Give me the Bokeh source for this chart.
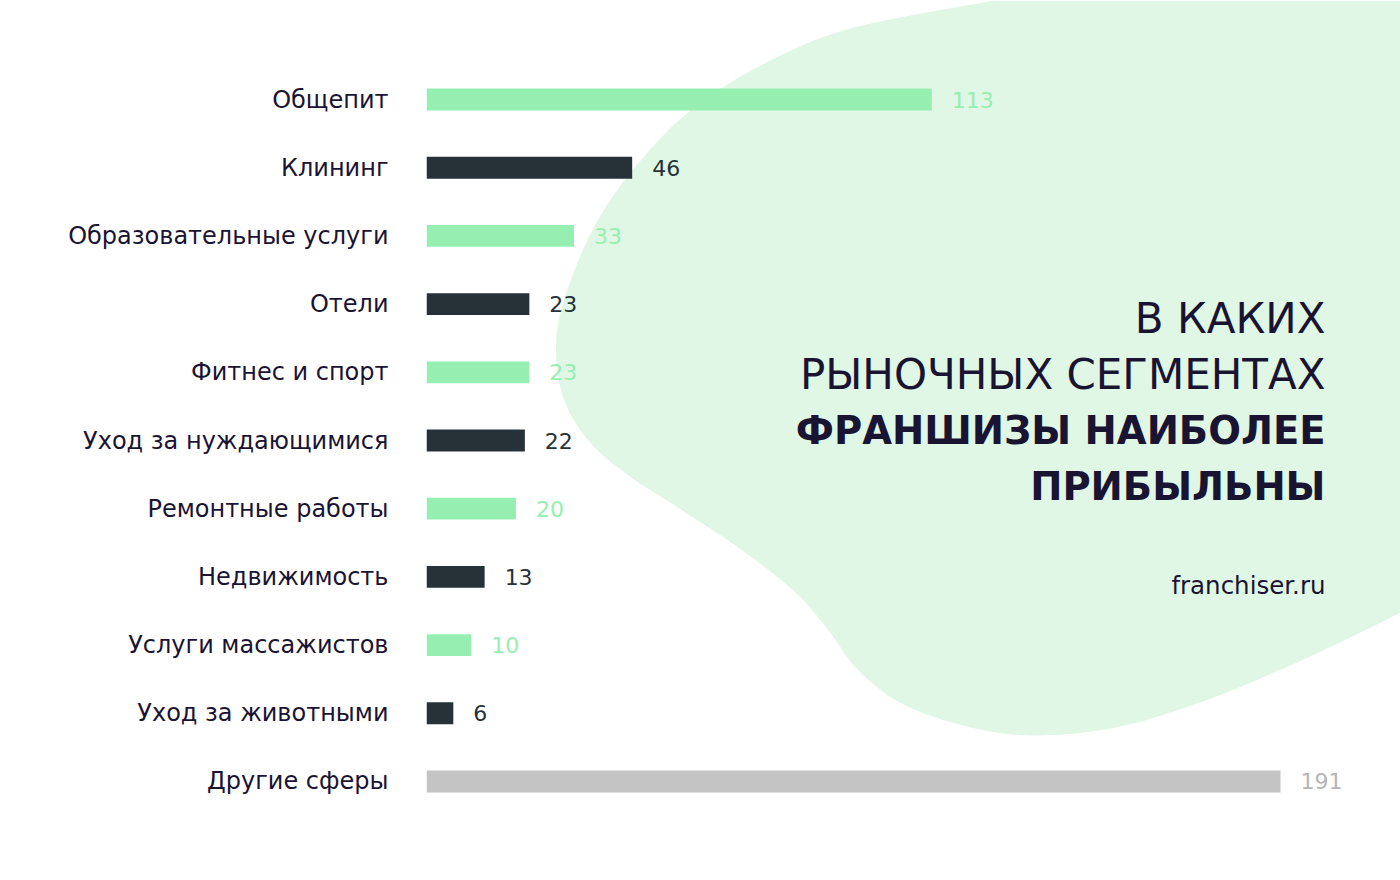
import numpy as np
from bokeh.plotting import figure
from bokeh.models import Range1d, ColumnDataSource, FixedTicker
from bokeh.core.properties import value
from bokeh.embed import file_html
from bokeh.resources import INLINE

# ---- data ----
categories = ["Общепит", "Клининг", "Образовательные услуги", "Отели", "Фитнес и спорт",
              "Уход за нуждающимися", "Ремонтные работы", "Недвижимость",
              "Услуги массажистов", "Уход за животными", "Другие сферы"]
counts = [113, 46, 33, 23, 23, 22, 20, 13, 10, 6, 191]

title_light = ["В КАКИХ", "РЫНОЧНЫХ СЕГМЕНТАХ"]
title_bold = ["ФРАНШИЗЫ НАИБОЛЕЕ", "ПРИБЫЛЬНЫ"]
source_text = "franchiser.ru"

# ---- style ----
GREEN = "#96efb0"
DARK = "#263238"
GREY = "#c4c4c4"
BLOB = "#e0f7e6"
TEXT = "#1a1433"
FONT = "DejaVu Sans"

n = len(categories)
bar_colors = [GREEN if i % 2 == 0 else DARK for i in range(n - 1)] + [GREY]
label_colors = [GREEN if i % 2 == 0 else DARK for i in range(n - 1)] + ["#b5b5b5"]
ypos = [n - 1 - i for i in range(n)]

src = ColumnDataSource(dict(y=ypos, val=counts, lbl=[str(v) for v in counts],
                            bc=bar_colors, lc=label_colors))

W, H = 1400, 880
LEFT = 426
PAD = 1.452
p = figure(width=W, height=H, output_backend="svg", toolbar_location=None,
           y_range=Range1d(-PAD, n - 1 + PAD),
           x_range=Range1d(0, 191 * (W - LEFT) / 854.0),
           min_border_left=LEFT, min_border_right=0, min_border_top=0, min_border_bottom=0)
p.extra_x_ranges = {"px": Range1d(LEFT, W)}
p.extra_y_ranges = {"py": Range1d(H, 0)}

# decorative background blob (pixel space), smoothed with Catmull-Rom
ctrl = np.array([(994, 0), (850, 28), (760, 65), (690, 110), (640, 160), (600, 215),
                 (572, 275), (556, 335), (562, 395), (588, 440), (628, 475), (682, 510),
                 (742, 550), (795, 592), (828, 630), (858, 670), (905, 705), (975, 728),
                 (1040, 735), (1120, 726), (1205, 700), (1290, 665), (1360, 632), (1400, 612)],
                dtype=float)
pts = np.vstack([ctrl[0], ctrl, ctrl[-1]])
sx, sy = [], []
for i in range(1, len(pts) - 2):
    p0, p1, p2, p3 = pts[i - 1], pts[i], pts[i + 1], pts[i + 2]
    for t in np.linspace(0, 1, 12, endpoint=False):
        q = 0.5 * ((2 * p1) + (-p0 + p2) * t + (2 * p0 - 5 * p1 + 4 * p2 - p3) * t ** 2
                   + (-p0 + 3 * p1 - 3 * p2 + p3) * t ** 3)
        sx.append(q[0]); sy.append(q[1])
sx += [1400, 1400]; sy += [612, 0]
p.patch(sx, sy, fill_color=BLOB, line_color=None, x_range_name="px", y_range_name="py",
        level="underlay")

p.hbar(y="y", right="val", left=0, height=0.32, fill_color="bc", line_color=None, source=src)
p.text(x="val", y="y", text="lbl", text_color="lc", x_offset=20, text_baseline="middle",
       text_align="left", text_font=value(FONT), text_font_size="22px", source=src)

p.text(x=[1325] * 2, y=[318, 374], text=title_light, text_align="right", text_baseline="middle",
       text_color=TEXT, text_font=value(FONT), text_font_size="42px",
       x_range_name="px", y_range_name="py")
p.text(x=[1325] * 2, y=[430, 486], text=title_bold, text_align="right", text_baseline="middle",
       text_color=TEXT, text_font=value(FONT), text_font_size="38.5px", text_font_style="bold",
       x_range_name="px", y_range_name="py")
p.text(x=[1325], y=[585], text=[source_text], text_align="right", text_baseline="middle",
       text_color=TEXT, text_font=value(FONT), text_font_size="24.5px",
       x_range_name="px", y_range_name="py")

p.xaxis.visible = False
p.yaxis.ticker = FixedTicker(ticks=ypos)
p.yaxis.major_label_overrides = {y: c for y, c in zip(ypos, categories)}
p.yaxis.axis_line_color = None
p.yaxis.major_tick_line_color = None
p.yaxis.minor_tick_line_color = None
p.yaxis.major_label_standoff = 32
p.yaxis.major_label_text_font = FONT
p.yaxis.major_label_text_font_size = "24px"
p.yaxis.major_label_text_color = TEXT
p.grid.visible = False
p.outline_line_color = None
p.background_fill_color = "white"
p.border_fill_color = "white"

open("out.html", "w").write(file_html(p, INLINE))
